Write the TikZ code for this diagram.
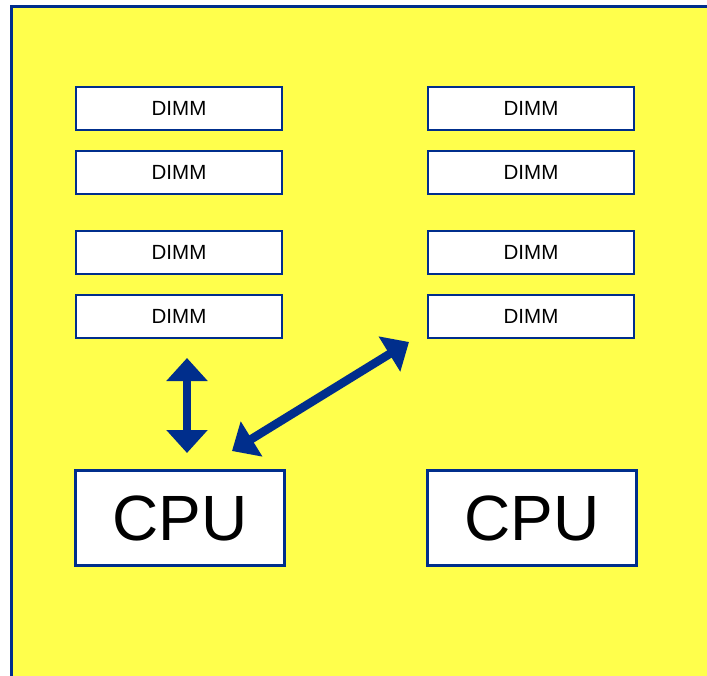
\documentclass[tikz,border=0pt]{standalone}
\usepackage{fontspec}
\setmainfont{Liberation Sans}
\usetikzlibrary{arrows.meta}
\definecolor{bgyellow}{RGB}{255,255,76}
\definecolor{navy}{RGB}{0,46,140}
\tikzset{
  dimmbox/.style={draw=navy, line width=2.8pt, fill=white, minimum width=206pt, minimum height=43pt, inner sep=0pt, font=\fontsize{20.5}{22}\selectfont},
  cpubox/.style={draw=navy, line width=2.8pt, fill=white, minimum width=209pt, minimum height=95pt, inner sep=0pt, font=\fontsize{64}{70}\selectfont},
  bigarrow/.style={navy, line width=8.5pt, {Triangle[length=23pt,width=40pt]}-{Triangle[length=23pt,width=40pt]}}
}
\begin{document}
\begin{tikzpicture}[x=1pt,y=-1pt]
\clip (0,0) rectangle (707,676);
\fill[white] (0,0) rectangle (707,676);
\draw[navy, line width=3pt, fill=bgyellow] (11.5,6.5) rectangle (740,700);
% DIMMs left
\node[dimmbox] (l1) at (179,108.5) {DIMM};
\node[dimmbox] (l2) at (179,172.5) {DIMM};
\node[dimmbox] (l3) at (179,252.5) {DIMM};
\node[dimmbox] (l4) at (179,316.5) {DIMM};
% DIMMs right
\node[dimmbox] (r1) at (531,108.5) {DIMM};
\node[dimmbox] (r2) at (531,172.5) {DIMM};
\node[dimmbox] (r3) at (531,252.5) {DIMM};
\node[dimmbox] (r4) at (531,316.5) {DIMM};
% CPUs
\node[cpubox] (c1) at (180,518) {CPU};
\node[cpubox] (c2) at (532,518) {CPU};
% arrows
\coordinate (va) at (187,358);
\coordinate (vb) at (187,453);
\coordinate (da) at (232,451);
\coordinate (db) at (409,342);
\draw[bigarrow] (va) -- (vb);
\draw[bigarrow] (da) -- (db);
\end{tikzpicture}
\end{document}
